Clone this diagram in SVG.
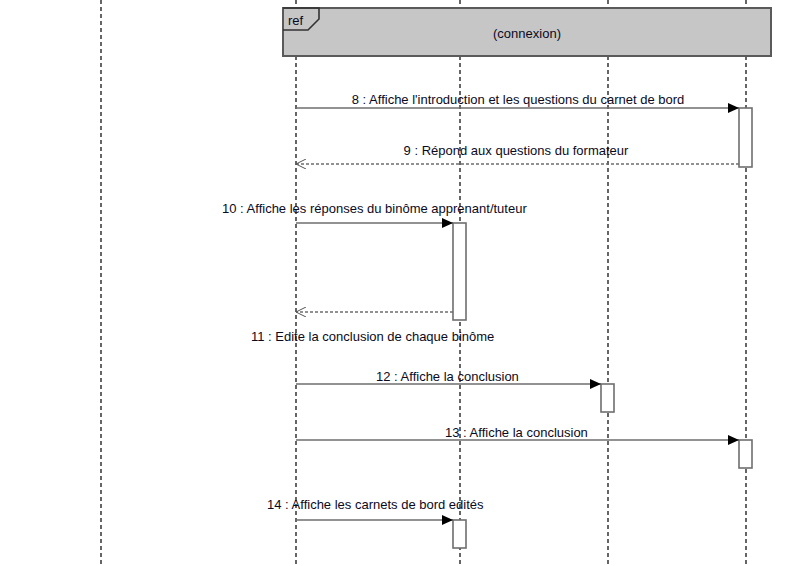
<svg xmlns="http://www.w3.org/2000/svg" width="808" height="566" viewBox="0 0 808 566">
<defs>
<style>
.life{stroke:#000;stroke-width:1.2;stroke-dasharray:4,3;fill:none}
.msg{stroke:#6e6e6e;stroke-width:1.6;fill:none}
.ret{stroke:#6e6e6e;stroke-width:1.4;stroke-dasharray:3,2;fill:none}
.act{fill:#fff;stroke:#6e6e6e;stroke-width:1.6}
text{font-family:"Liberation Sans",Arial,sans-serif;font-size:13px;fill:#0a0a1e}
</style>
<marker id="filled" markerWidth="12" markerHeight="10" refX="11" refY="5" orient="auto" markerUnits="userSpaceOnUse">
<path d="M0,0 L11,5 L0,10 Z" fill="#000"/>
</marker>
<marker id="open" markerWidth="12" markerHeight="10" refX="11" refY="5" orient="auto" markerUnits="userSpaceOnUse">
<path d="M1,0 L11,5 L1,10" fill="none" stroke="#555" stroke-width="1"/>
</marker>
</defs>
<rect width="808" height="566" fill="#fff"/>
<g id="lifelines">
<line class="life" x1="101" y1="0" x2="101" y2="566"/>
<line class="life" x1="296" y1="0" x2="296" y2="566"/>
<line class="life" x1="460" y1="0" x2="460" y2="566"/>
<line class="life" x1="608" y1="0" x2="608" y2="566"/>
<line class="life" x1="746" y1="0" x2="746" y2="566"/>
</g>
<g id="ref">
<rect x="283" y="8" width="488" height="48" fill="#c6c6c6" stroke="#5a5a5a" stroke-width="2"/>
<path d="M283,8 L319,8 L319,19 L308,30 L283,30" fill="none" stroke="#333" stroke-width="1.6"/>
<text x="288" y="25">ref</text>
<text x="527" y="38" text-anchor="middle">(connexion)</text>
</g>
<g id="activations">
<rect class="act" x="739" y="108" width="13" height="59"/>
<rect class="act" x="453" y="223" width="13" height="97"/>
<rect class="act" x="601" y="384" width="13" height="28"/>
<rect class="act" x="739" y="440" width="13" height="28"/>
<rect class="act" x="453" y="520" width="13" height="28"/>
</g>
<g id="connectors">
<line class="msg" x1="296" y1="108" x2="739" y2="108" marker-end="url(#filled)"/>
<line class="ret" x1="739" y1="164" x2="296" y2="164" marker-end="url(#open)"/>
<line class="msg" x1="296" y1="223" x2="453" y2="223" marker-end="url(#filled)"/>
<line class="ret" x1="453" y1="312" x2="296" y2="312" marker-end="url(#open)"/>
<line class="msg" x1="296" y1="384" x2="601" y2="384" marker-end="url(#filled)"/>
<line class="msg" x1="296" y1="440" x2="739" y2="440" marker-end="url(#filled)"/>
<line class="msg" x1="296" y1="520" x2="453" y2="520" marker-end="url(#filled)"/>
</g>
<g id="labels">
<text x="518" y="104" text-anchor="middle">8 : Affiche l'introduction et les questions du carnet de bord</text>
<text x="516" y="155" text-anchor="middle">9 : Répond aux questions du formateur</text>
<text x="222" y="213">10 : Affiche les réponses du binôme apprenant/tuteur</text>
<text x="251" y="341">11 : Edite la conclusion de chaque binôme</text>
<text x="376" y="381">12 : Affiche la conclusion</text>
<text x="445" y="437">13 : Affiche la conclusion</text>
<text x="267" y="509">14 : Affiche les carnets de bord edités</text>
</g>
</svg>
